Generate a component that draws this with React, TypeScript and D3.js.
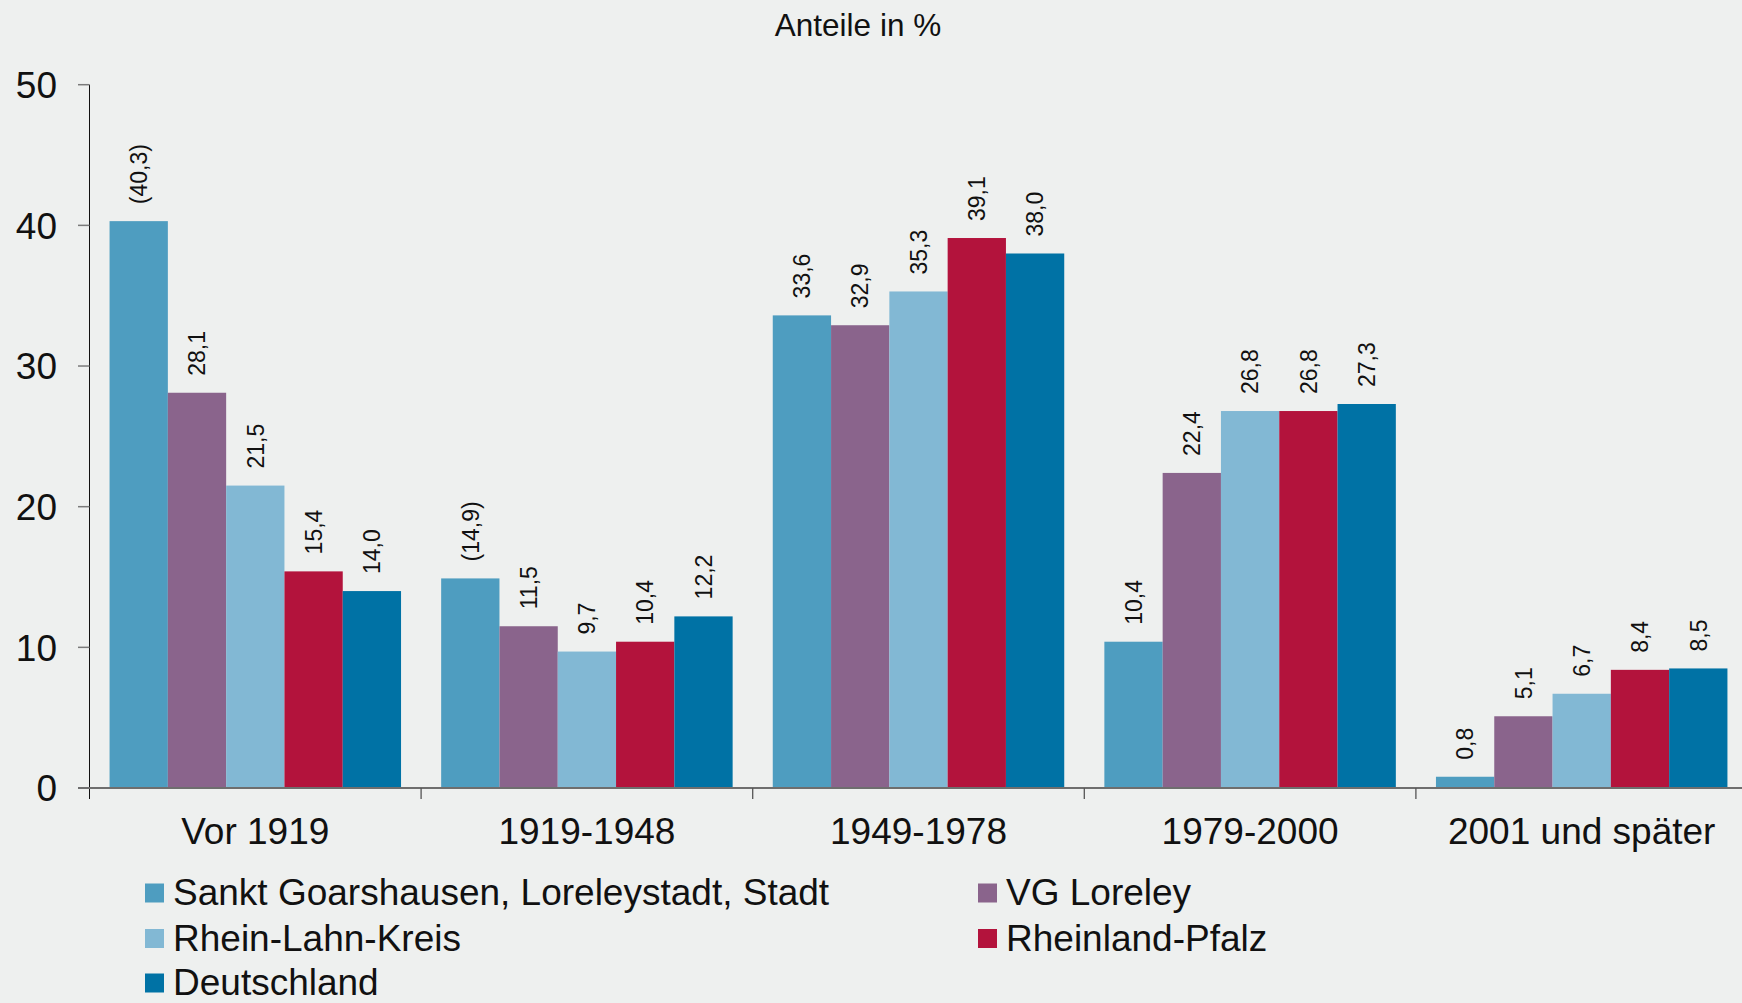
import React from "react";
import * as d3 from "d3";

const categories = ["Vor 1919", "1919-1948", "1949-1978", "1979-2000", "2001 und später"];
const seriesNames = [
  "Sankt Goarshausen, Loreleystadt, Stadt",
  "VG Loreley",
  "Rhein-Lahn-Kreis",
  "Rheinland-Pfalz",
  "Deutschland",
];
const sanktGoarshausen = [40.3, 14.9, 33.6, 10.4, 0.8];
const vgLoreley = [28.1, 11.5, 32.9, 22.4, 5.1];
const rheinLahnKreis = [21.5, 9.7, 35.3, 26.8, 6.7];
const rheinlandPfalz = [15.4, 10.4, 39.1, 26.8, 8.4];
const deutschland = [14.0, 12.2, 38.0, 27.3, 8.5];
const sanktLabels = ["(40,3)", "(14,9)", "33,6", "10,4", "0,8"];
const seriesColors = ["#4e9dc0", "#8a648c", "#82b8d4", "#b3133c", "#0072a5"];
const yTicks = [0, 10, 20, 30, 40, 50];
const title = "Anteile in %";

const fmt = (v: number) => v.toFixed(1).replace(".", ",");

export default function App() {
  const W = 1742;
  const H = 1003;
  const x0 = 89.5;
  const bandW = 331.6;
  const values = [sanktGoarshausen, vgLoreley, rheinLahnKreis, rheinlandPfalz, deutschland];
  const labels = [sanktLabels, vgLoreley.map(fmt), rheinLahnKreis.map(fmt), rheinlandPfalz.map(fmt), deutschland.map(fmt)];

  const x = d3.scaleBand<string>().domain(categories).range([x0, x0 + bandW * categories.length]).padding(0);
  const inner = d3
    .scaleBand<number>()
    .domain(d3.range(seriesNames.length))
    .range([x.bandwidth() * 0.0605, x.bandwidth() * 0.9395])
    .padding(0);
  const y = d3.scaleLinear().domain([0, 50]).range([788, 84.7]);

  const legendItems = [
    { i: 0, lx: 145, ly: 893 },
    { i: 1, lx: 978, ly: 893 },
    { i: 2, lx: 145, ly: 938.5 },
    { i: 3, lx: 978, ly: 938.5 },
    { i: 4, lx: 145, ly: 983 },
  ];

  const font = "'Liberation Sans', Arial, Helvetica, sans-serif";

  return (
    <svg
      width={W}
      height={H}
      style={{ position: "absolute", left: 0, top: 0, display: "block" }}
      fontFamily={font}
    >
      <rect x={0} y={0} width={W} height={H} fill="#eef0ef" />
      <text x={858} y={36} fontSize={31.5} textAnchor="middle" fill="#111">
        {title}
      </text>

      {/* bars */}
      {categories.map((c, ci) => (
        <g key={c} transform={`translate(${x(c)},0)`}>
          {values.map((vals, si) => {
            const bx = inner(si)!;
            const bw = inner.bandwidth();
            const top = y(vals[ci]);
            return (
              <g key={si}>
                <rect x={bx} y={top} width={bw} height={y(0) - top} fill={seriesColors[si]} />
                <text
                  transform={`translate(${bx + bw / 2},${top - 17}) rotate(-90)`}
                  dy="0.36em"
                  fontSize={23}
                  fill="#111"
                  textAnchor="start"
                >
                  {labels[si][ci]}
                </text>
              </g>
            );
          })}
        </g>
      ))}

      {/* y axis */}
      <line x1={x0} x2={x0} y1={y(50)} y2={799} stroke="#111" strokeWidth={1} />
      {yTicks.map((t) => (
        <g key={t}>
          <line x1={78} x2={x0} y1={y(t)} y2={y(t)} stroke="#7a7a7a" strokeWidth={1.5} />
          <text x={57} y={y(t)} dy="0.36em" fontSize={37} textAnchor="end" fill="#111">
            {t}
          </text>
        </g>
      ))}

      {/* x axis */}
      <line x1={78} x2={W} y1={y(0)} y2={y(0)} stroke="#6e6e6e" strokeWidth={2} />
      {categories.slice(1).map((c) => (
        <line key={c} x1={x(c)!} x2={x(c)!} y1={y(0)} y2={799} stroke="#555" strokeWidth={1.3} />
      ))}
      {categories.map((c) => (
        <text key={c} x={x(c)! + x.bandwidth() / 2} y={844} fontSize={37} textAnchor="middle" fill="#111">
          {c}
        </text>
      ))}

      {/* legend */}
      {legendItems.map(({ i, lx, ly }) => (
        <g key={i}>
          <rect x={lx} y={ly - 9.5} width={19} height={19} fill={seriesColors[i]} />
          <text x={lx + 28} y={ly + 12} fontSize={37} fill="#111">
            {seriesNames[i]}
          </text>
        </g>
      ))}
    </svg>
  );
}
